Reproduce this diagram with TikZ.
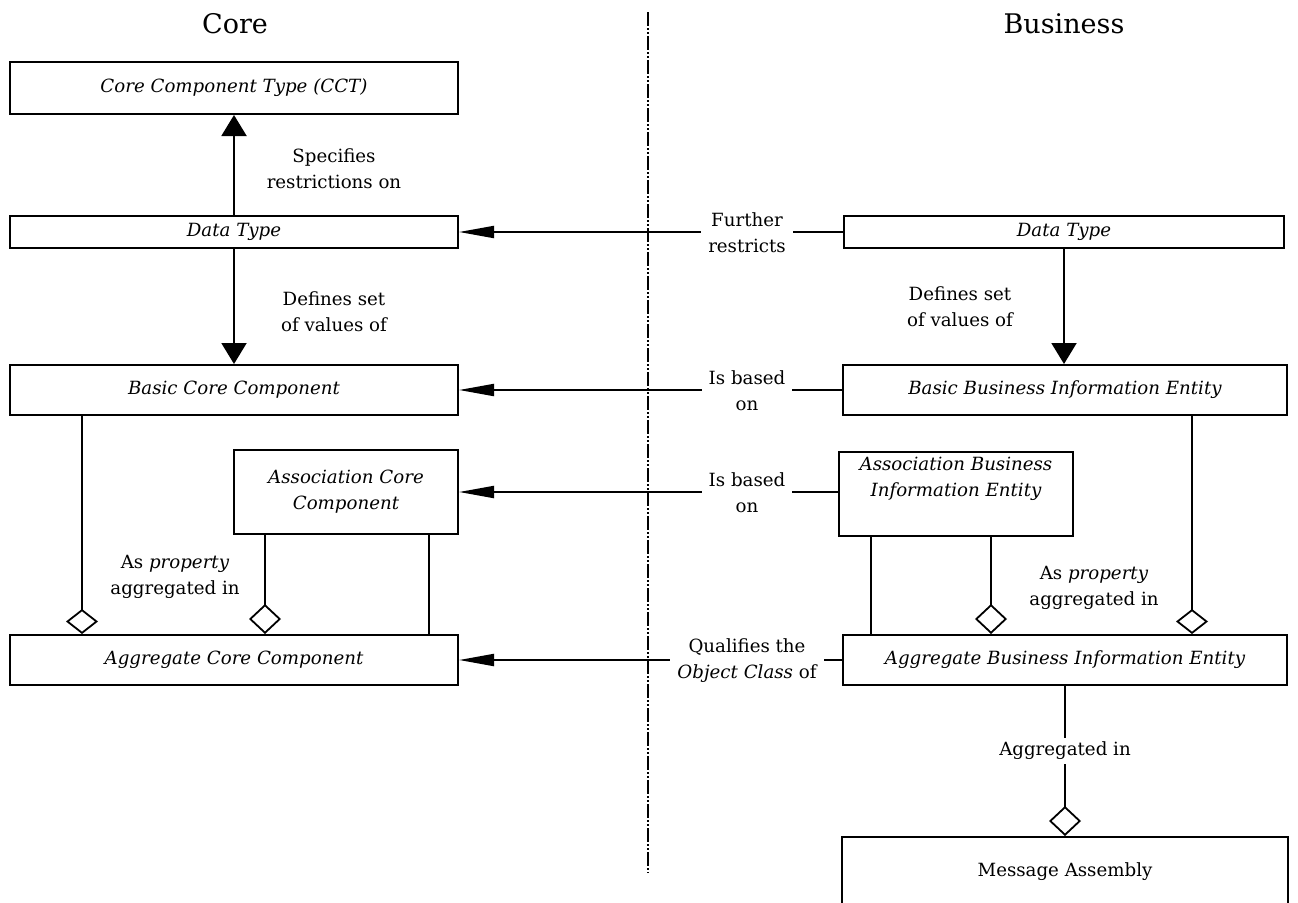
\documentclass[tikz,border=0pt]{standalone}
\usepackage{fontspec}
\setmainfont{DejaVu Serif}
\usetikzlibrary{arrows.meta}
\newcommand\fsz{\fontsize{18.2}{26}\selectfont}
\newcommand\ttlsz{\fontsize{27}{32}\selectfont}
\begin{document}
\begin{tikzpicture}[x=1pt,y=-1pt,
  box/.style={draw, line width=2pt, rectangle, inner sep=0pt, font=\fsz\itshape, align=center},
  lbl/.style={font=\fsz, align=center, inner sep=2pt},
  gaplbl/.style={lbl, fill=white, inner xsep=7pt, inner ysep=4pt},
  ttl/.style={font=\ttlsz, inner sep=0pt},
  conn/.style={line width=2pt},
  harrow/.style={conn, -{Triangle[length=35pt,width=12pt]}},
  varrow/.style={conn, -{Triangle[length=21pt,width=25pt]}},
  aggA/.style={conn, -{Diamond[length=25pt,width=32pt,fill=white,line width=1.8pt]}},
  aggB/.style={conn, -{Diamond[length=30pt,width=32pt,fill=white,line width=1.8pt]}},
  divider/.style={line width=1.2pt, dash pattern=on 14pt off 2pt on 2pt off 2pt on 2pt off 2pt}
]
\useasboundingbox (0,0) rectangle (1298,902);
\clip (0,0) rectangle (1298,902);

% titles
\node[ttl] (tcore) at (235,24) {Core};
\node[ttl] (tbus) at (1064,24) {Business};

% divider
\coordinate (divtop) at (648,12);
\coordinate (divbot) at (648,873);
\draw[divider] (divtop) -- (divbot);

% core boxes
\node[box, minimum width=448pt, minimum height=52pt] (cct) at (234,88) {Core Component Type (CCT)};
\node[box, minimum width=448pt, minimum height=32pt] (dtl) at (234,232) {Data Type};
\node[box, minimum width=448pt, minimum height=50pt] (bcc) at (234,390) {Basic Core Component};
\node[box, minimum width=224pt, minimum height=84pt] (acc) at (346,492) {Association Core\\Component};
\node[box, minimum width=448pt, minimum height=50pt] (aggcc) at (234,660) {Aggregate Core Component};

% business boxes
\node[box, minimum width=440pt, minimum height=32pt] (dtr) at (1064,232) {Data Type};
\node[box, minimum width=444pt, minimum height=50pt] (bbie) at (1065,390) {Basic Business Information Entity};
\node[box, minimum width=234pt, minimum height=84pt] (abie) at (956,494) {Association Business\\Information Entity\\ \strut};
\node[box, minimum width=444pt, minimum height=50pt] (aggbie) at (1065,660) {Aggregate Business Information Entity};
\node[box, minimum width=446pt, minimum height=70pt, font=\fsz] (ma) at (1065,872) {Message Assembly};

% vertical arrows
\draw[varrow] (dtl.north) -- (cct.south);
\draw[varrow] (dtl.south) -- (bcc.north);
\draw[varrow] (dtr.south) -- (dtr.south |- bbie.north);

% horizontal arrows
\draw[harrow] (dtr.west) -- (dtl.east);
\draw[harrow] (bbie.west) -- (bcc.east);
\draw[harrow] (acc.east -| abie.west) -- (acc.east);
\draw[harrow] (aggbie.west) -- (aggcc.east);

% aggregation, core side
\draw[aggA] ([xshift=73pt]bcc.south west) -- ([xshift=73pt]aggcc.north west);
\draw[aggB] ([xshift=32pt]acc.south west) -- ([xshift=256pt]aggcc.north west);
\draw[conn] ([xshift=-30pt]acc.south east) -- ([xshift=-30pt]aggcc.north east);

% aggregation, business side
\draw[conn] ([xshift=33pt]abie.south west) -- ([xshift=29pt]aggbie.north west);
\draw[aggB] ([xshift=153pt]abie.south west) -- ([xshift=149pt]aggbie.north west);
\draw[aggA] ([xshift=350pt]bbie.south west) -- ([xshift=350pt]aggbie.north west);
\draw[aggB] (aggbie.south) -- (ma.north);

% labels
\node[lbl] (l1) at (334,169) {Specifies\\restrictions on};
\node[lbl] (l2) at (334,312) {Defines set\\of values of};
\node[lbl] (l3) at (960,307) {Defines set\\of values of};
\node[lbl] (l4) at (175,577) {As \textit{property}\\aggregated in};
\node[lbl] (l5) at (1094,588) {As \textit{property}\\aggregated in};
\node[gaplbl] (l6) at (747,233) {Further\\restricts};
\node[gaplbl] (l7) at (747,391) {Is based\\on};
\node[gaplbl] (l8) at (747,493) {Is based\\on};
\node[gaplbl] (l9) at (747,661) {Qualifies the\\\textit{Object Class} of};
\node[gaplbl] (l10) at (1065,751) {Aggregated in};
\end{tikzpicture}
\end{document}
